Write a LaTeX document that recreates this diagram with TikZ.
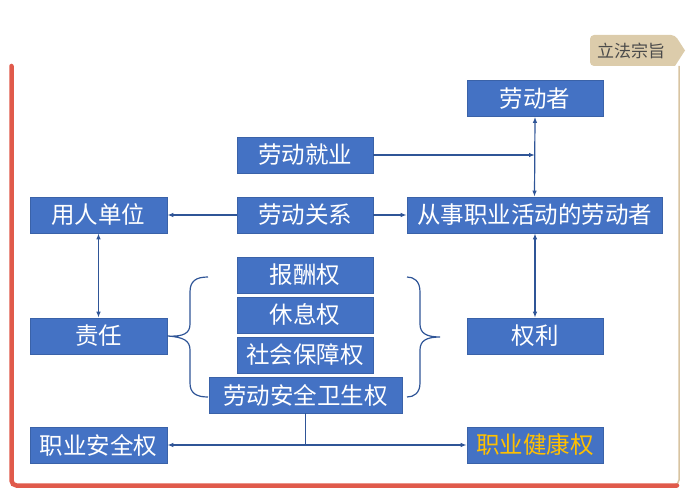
\documentclass[tikz,border=0pt]{standalone}
\usepackage{fontspec}
\setmainfont{Noto Sans CJK SC}
\usetikzlibrary{arrows.meta,calc}
\definecolor{boxblue}{HTML}{4472C4}
\definecolor{boxedge}{HTML}{3A62A8}
\definecolor{lineblue}{HTML}{2F5597}
\definecolor{framered}{HTML}{E05A4B}
\definecolor{tan}{HTML}{DCCCAB}
\definecolor{tanline}{HTML}{D8C4A2}
\definecolor{gold}{HTML}{FFC000}
\definecolor{tagtext}{HTML}{4A4A4A}
\tikzset{
  box/.style={draw=boxedge, line width=0.6pt, fill=boxblue, text=white, inner sep=0pt,
    minimum height=36pt, font=\fontsize{23.5}{24}\selectfont},
  conn/.style={draw=lineblue, line width=1.2pt},
  arr/.style={conn, -{Latex[length=6pt,width=4.5pt]}},
  darr/.style={conn, {Latex[length=6pt,width=4.5pt]}-{Latex[length=6pt,width=4.5pt]}},
  brace/.style={draw=lineblue, line width=1.2pt}
}
\begin{document}
\begin{tikzpicture}[x=1pt,y=-1pt]
\useasboundingbox (0,0) rectangle (697,503);
% frame
\draw[tanline, line width=1.5pt] (679,66) -- (679,480) arc[start angle=0,end angle=90,radius=5];
\draw[framered, line width=4.5pt, line cap=round] (11.5,66) -- (11.5,480.5) arc[start angle=180,end angle=90,radius=5] -- (677,485.5);
% tag
\path[fill=tan, rounded corners=4pt] (590,35) -- (675,35) [sharp corners] -- (685,50.5) -- (675,66) [rounded corners=4pt] -- (590,66) -- cycle;
\node[text=tagtext, font=\fontsize{17}{17}\selectfont, inner sep=0pt] (tag) at (631,50.5) {立法宗旨};
% nodes
\node[box, minimum width=136pt] (ldz) at (535,98.5) {劳动者};
\node[box, minimum width=136pt] (jy) at (305,155) {劳动就业};
\node[box, minimum width=136pt] (gx) at (305,215) {劳动关系};
\node[box, minimum width=137pt] (dw) at (98.5,215) {用人单位};
\node[box, minimum width=255pt] (cs) at (534.5,215) {从事职业活动的劳动者};
\node[box, minimum width=137pt] (zr) at (98.5,336) {责任};
\node[box, minimum width=136pt] (ql) at (535,336) {权利};
\node[box, minimum width=136pt] (bc) at (305,275) {报酬权};
\node[box, minimum width=136pt] (xx) at (305,315) {休息权};
\node[box, minimum width=136pt] (sh) at (305,355) {社会保障权};
\node[box, minimum width=193pt] (aq) at (305.5,395) {劳动安全卫生权};
\node[box, minimum width=137pt] (zyaq) at (98.5,445) {职业安全权};
\node[box, minimum width=136pt, text=gold] (zyjk) at (535,445) {职业健康权};
% connectors
\draw[darr] (ldz.south) -- (cs.north);
\draw[arr] (jy.east) -- (jy.east -| ldz.south);
\draw[arr] (gx.west) -- (dw.east);
\draw[arr] (gx.east) -- (cs.west);
\draw[darr] (dw.south) -- (zr.north);
\draw[darr] (cs.south -| ql.north) -- (ql.north);
\draw[conn] (aq.south) -- (aq.south |- zyaq.east);
\draw[darr] (zyaq.east) -- (zyjk.west);
% braces
\draw[brace] (208,277) .. controls (196,277) and (190,281) .. (190,292) -- (190,324)
  .. controls (190,333) and (184,337) .. (zr.east)
  .. controls (184,337) and (190,341) .. (190,350) -- (190,383)
  .. controls (190,393) and (196,397) .. (208,397);
\draw[brace] (407,277) .. controls (414,277) and (420,281) .. (420,292) -- (420,324)
  .. controls (420,333) and (426,337) .. (440,337)
  .. controls (426,337) and (420,341) .. (420,350) -- (420,383)
  .. controls (420,393) and (414,397) .. (407,397);
\end{tikzpicture}
\end{document}
